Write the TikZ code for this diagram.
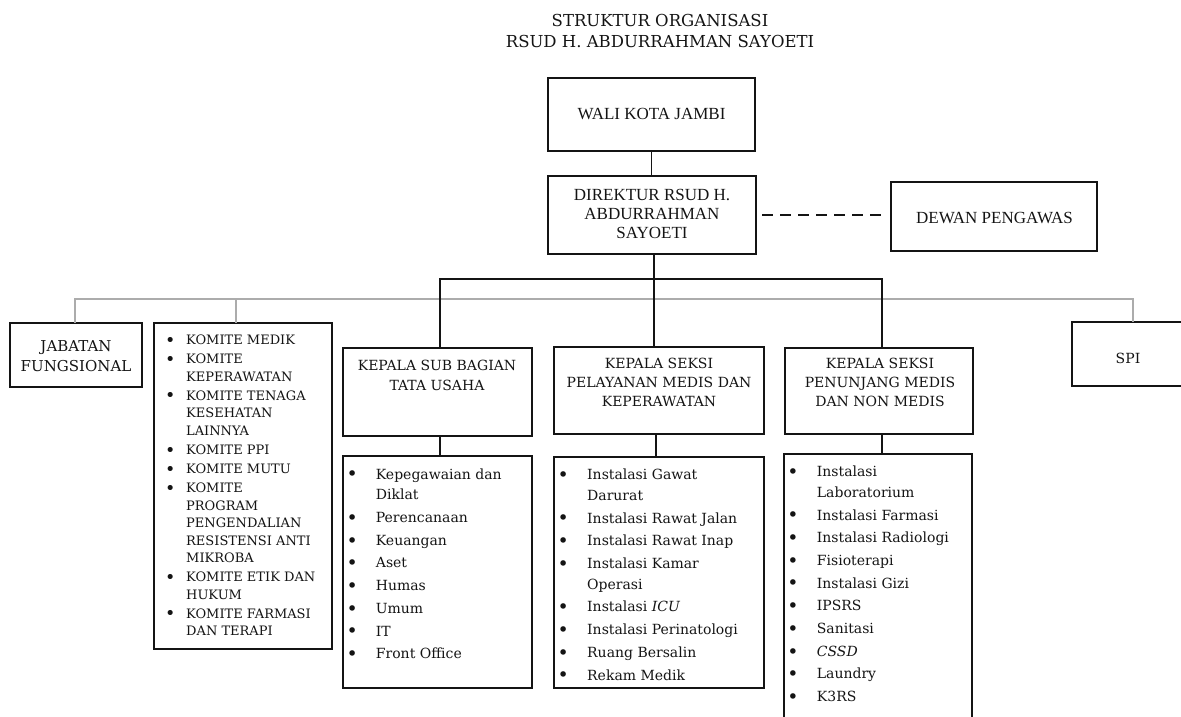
\documentclass[tikz,border=0pt]{standalone}
\usepackage{fontspec}
\setmainfont{DejaVu Serif}
\newfontfamily\topfont{Liberation Serif}
\definecolor{lineg}{RGB}{172,172,172}
\definecolor{ink}{RGB}{20,20,20}
\newcommand{\bl}{\makebox[0pt]{\raisebox{-1.8pt}{\fontsize{19}{19}\selectfont\textbullet}}}
\newcommand{\blk}{\makebox[0pt]{\raisebox{-1.5pt}{\fontsize{17.5}{17.5}\selectfont\textbullet}}}
\begin{document}
\begin{tikzpicture}[x=1pt,y=-1pt,
  box/.style={draw=ink, line width=1.3pt, inner sep=0pt, outer sep=0pt, anchor=north west},
  conn/.style={draw=ink, line width=1.3pt},
  gconn/.style={draw=lineg, line width=1.3pt},
  txt/.style={inner sep=0pt, align=center, text=ink},
  toptxt/.style={txt, font=\topfont\fontsize{17}{19.2}\selectfont},
  headtxt/.style={txt, font=\fontsize{14}{19}\selectfont},
  lst/.style={inner sep=0pt, anchor=base west, text=ink, font=\fontsize{14}{20.8}\selectfont}]
\useasboundingbox (0,0) rectangle (1181,716);
\clip (0,0) rectangle (1181,716);

% title
\node[txt, font=\fontsize{16.5}{21}\selectfont] (title) at (660,31.2)
  {STRUKTUR ORGANISASI\\RSUD H. ABDURRAHMAN SAYOETI};

% boxes
\node[box, minimum width=207pt, minimum height=73pt] (wali) at (548,78) {};
\node[box, minimum width=208pt, minimum height=78pt] (dir) at (548,176) {};
\node[box, minimum width=206pt, minimum height=69pt] (dewan) at (891,182) {};
\node[box, minimum width=132pt, minimum height=64pt] (jab) at (10,323) {};
\node[box, minimum width=178pt, minimum height=326pt] (komite) at (154,323) {};
\node[box, minimum width=189pt, minimum height=88pt] (kasub) at (343,348) {};
\node[box, minimum width=210pt, minimum height=87pt] (pelayanan) at (554,347) {};
\node[box, minimum width=188pt, minimum height=86pt] (penunjang) at (785,348) {};
\node[box, minimum width=130pt, minimum height=64pt] (spi) at (1072,322) {};
\node[box, minimum width=189pt, minimum height=232pt] (list1) at (343,456) {};
\node[box, minimum width=210pt, minimum height=231pt] (list2) at (554,457) {};
\node[box, minimum width=188pt, minimum height=290pt] (list3) at (784,454) {};

% box texts
\node[toptxt] (waliT) at (651.5,114) {WALI KOTA JAMBI};
\node[toptxt] (dirT) at (652,214) {DIREKTUR RSUD H.\\ABDURRAHMAN\\SAYOETI};
\node[toptxt] (dewanT) at (994.5,218) {DEWAN PENGAWAS};
\node[txt, font=\fontsize{15}{20}\selectfont] (jabT) at (76,356) {JABATAN\\FUNGSIONAL};
\node[headtxt, font=\fontsize{14}{20}\selectfont] (kasubT) at (437,375) {KEPALA SUB BAGIAN\\TATA USAHA};
\node[headtxt] (pelT) at (659,382) {KEPALA SEKSI\\PELAYANAN MEDIS DAN\\KEPERAWATAN};
\node[headtxt] (penT) at (880,382) {KEPALA SEKSI\\PENUNJANG MEDIS\\DAN NON MEDIS};
\node[headtxt] (spiT) at (1128,358) {SPI};

% lists
\node[lst, font=\fontsize{13}{17.5}\selectfont] (komiteT) at (170,344.7) {%
\begin{tabular}[t]{@{}l@{\hspace{16pt}}l@{}}
\blk & KOMITE MEDIK\\[1.6pt]
\blk & KOMITE\\
    & KEPERAWATAN\\[1.6pt]
\blk & KOMITE TENAGA\\
    & KESEHATAN\\
    & LAINNYA\\[1.6pt]
\blk & KOMITE PPI\\[1.6pt]
\blk & KOMITE MUTU\\[1.6pt]
\blk & KOMITE\\
    & PROGRAM\\
    & PENGENDALIAN\\
    & RESISTENSI ANTI\\
    & MIKROBA\\[1.6pt]
\blk & KOMITE ETIK DAN\\
    & HUKUM\\[1.6pt]
\blk & KOMITE FARMASI\\
    & DAN TERAPI
\end{tabular}};

\node[lst] (list1T) at (352,479) {%
\begin{tabular}[t]{@{}l@{\hspace{23.7pt}}l@{}}
\bl & Kepegawaian dan\\
    & Diklat\\[1.9pt]
\bl & Perencanaan\\[1.9pt]
\bl & Keuangan\\[1.9pt]
\bl & Aset\\[1.9pt]
\bl & Humas\\[1.9pt]
\bl & Umum\\[1.9pt]
\bl & IT\\[1.9pt]
\bl & Front Office
\end{tabular}};

\node[lst] (list2T) at (563,479.5) {%
\begin{tabular}[t]{@{}l@{\hspace{24pt}}l@{}}
\bl & Instalasi Gawat\\
    & Darurat\\[1.9pt]
\bl & Instalasi Rawat Jalan\\[1.9pt]
\bl & Instalasi Rawat Inap\\[1.9pt]
\bl & Instalasi Kamar\\
    & Operasi\\[1.9pt]
\bl & Instalasi \textit{ICU}\\[1.9pt]
\bl & Instalasi Perinatologi\\[1.9pt]
\bl & Ruang Bersalin\\[1.9pt]
\bl & Rekam Medik
\end{tabular}};

\node[lst] (list3T) at (792.7,476.5) {%
\begin{tabular}[t]{@{}l@{\hspace{24pt}}l@{}}
\bl & Instalasi\\
    & Laboratorium\\[1.9pt]
\bl & Instalasi Farmasi\\[1.9pt]
\bl & Instalasi Radiologi\\[1.9pt]
\bl & Fisioterapi\\[1.9pt]
\bl & Instalasi Gizi\\[1.9pt]
\bl & IPSRS\\[1.9pt]
\bl & Sanitasi\\[1.9pt]
\bl & \textit{CSSD}\\[1.9pt]
\bl & Laundry\\[1.9pt]
\bl & K3RS
\end{tabular}};

% grey connectors
\coordinate (gL) at (75,299);
\coordinate (gK) at (236,299);
\coordinate (gR) at (1133,299);
\draw[gconn] (jab.north -| gL) -- (gL) -- (gR) -- (spi.north -| gR);
\draw[gconn] (gK) -- (komite.north -| gK);

% black connectors
\coordinate (bL) at (440,279);
\coordinate (bM) at (654,279);
\coordinate (bR) at (882,279);
\coordinate (sM) at (656,445);
\draw[conn] (wali.south) -- (wali.south |- dir.north);
\draw[conn, dash pattern=on 11pt off 7pt] ([xshift=6pt]dir.east) -- ([xshift=-9pt]dewan.west |- dir.east);
\draw[conn] (kasub.north -| bL) -- (bL) -- (bR) -- (penunjang.north -| bR);
\draw[conn] (dir.south -| bM) -- (pelayanan.north -| bM);
\draw[conn] (kasub.south -| bL) -- (list1.north -| bL);
\draw[conn] (pelayanan.south -| sM) -- (list2.north -| sM);
\draw[conn] (penunjang.south -| bR) -- (list3.north -| bR);
\end{tikzpicture}
\end{document}
